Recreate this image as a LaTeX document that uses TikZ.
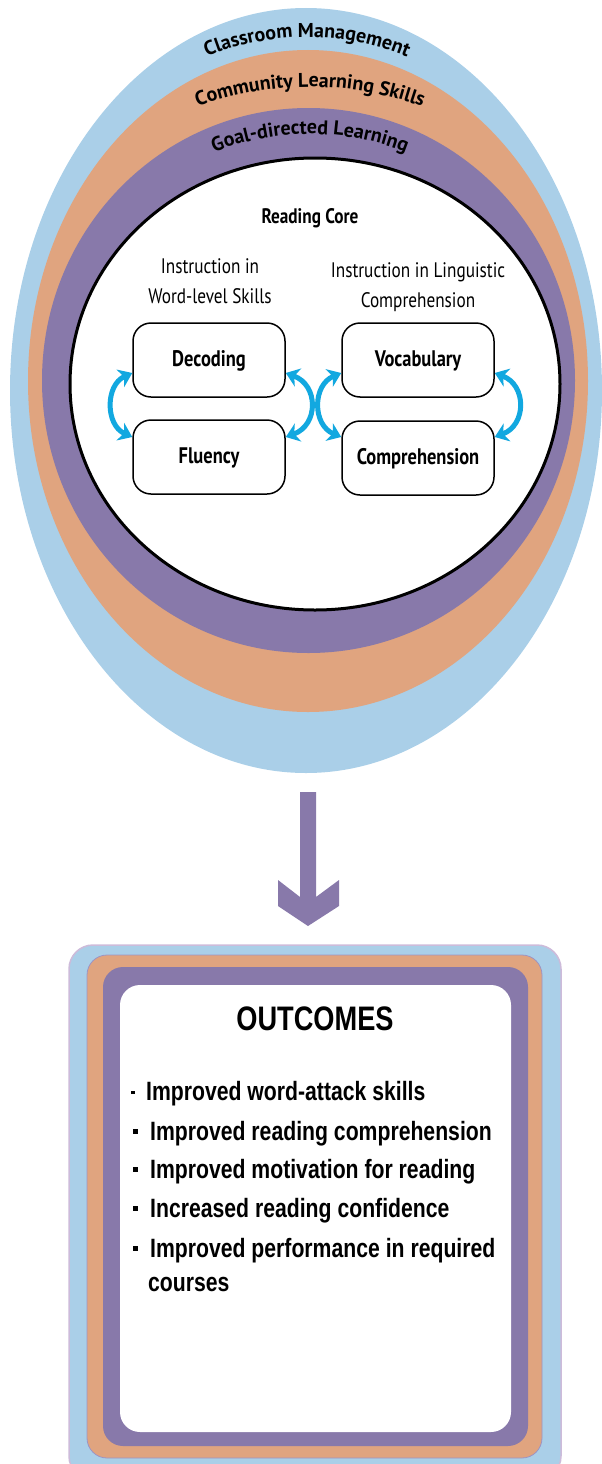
\documentclass[tikz,border=0pt]{standalone}
\usepackage{fontspec}
\usetikzlibrary{arrows.meta,decorations.text}
\newfontfamily\myr[FakeStretch=0.82]{PT Sans}
\newfontfamily\myrw{PT Sans}
\newfontfamily\arl[FakeStretch=0.8]{Liberation Sans}
\definecolor{ringblue}{HTML}{AACFE8}
\definecolor{ringorange}{HTML}{E0A47F}
\definecolor{ringpurple}{HTML}{8879AA}
\definecolor{arrowcyan}{HTML}{12A8E0}
\definecolor{lavender}{HTML}{CDBBDA}
\definecolor{edgepurple}{HTML}{9C94C4}
\newcommand\arcfont{\myrw\bfseries\fontsize{20}{20}\selectfont}
\tikzset{
  skillbox/.style={draw, line width=1.5pt, rounded corners=18pt, minimum width=152pt, minimum height=74pt, inner sep=0pt,
    font=\myr\bfseries\fontsize{22.5}{22.5}\selectfont, text height=14pt, text depth=2pt},
  cyanarr/.style={draw=arrowcyan, line width=5pt, arrows={Stealth[length=13pt,width=19pt,inset=4pt]-Stealth[length=13pt,width=19pt,inset=4pt]}},
  headtxt/.style={font=\myr\fontsize{21}{30}\selectfont, align=center, inner sep=0pt},
  bullettxt/.style={anchor=base west, inner sep=0pt, font=\arl\bfseries\fontsize{26.5}{26.5}\selectfont},
  arclabel/.style={decorate, decoration={text along path, text align=center, text={|\arcfont|#1}}}
}
\begin{document}
\begin{tikzpicture}[x=1pt,y=1pt]
\useasboundingbox (0,0) rectangle (602,-1464);
\clip (0,0) rectangle (602,-1464);
% rings
\fill[ringblue] (306,-390.5) ellipse[x radius=296,y radius=382.5];
\fill[ringorange] (308,-381) ellipse[x radius=280,y radius=331];
\fill[ringpurple] (308.5,-380.5) ellipse[x radius=266.5,y radius=272.5];
\draw[fill=white, line width=3pt] (315,-384) ellipse[x radius=245,y radius=226];
% ring labels
\path[arclabel=Classroom Management] (177,-71.8) arc[start angle=120, end angle=60, radius=260];
\path[arclabel=Community Learning Skills] (170.5,-117.9) arc[start angle=115, end angle=65, radius=330];
\path[arclabel=Goal-directed Learning] (180,-168.8) arc[start angle=120, end angle=60, radius=260];
% core
\node[anchor=base, inner sep=0pt, font=\myr\bfseries\fontsize{21}{21}\selectfont] (core) at (310,-223) {Reading Core};
\node[headtxt] (wl) at (210,-281) {Instruction in\\Word-level Skills};
\node[headtxt] (lc) at (418,-287) {Instruction in Linguistic\\Comprehension};
\node[skillbox] (dec) at (209,-360) {Decoding};
\node[skillbox] (flu) at (209,-457) {Fluency};
\node[skillbox] (voc) at (418,-360) {Vocabulary};
\node[skillbox] (comp) at (418,-458) {Comprehension};
\draw[cyanarr] ([yshift=-13pt]dec.west) .. controls +(-27,-12) and +(-27,12) .. ([yshift=20pt]flu.west);
\draw[cyanarr] ([yshift=-13pt]dec.east) .. controls +(33,-12) and +(33,12) .. ([yshift=20pt]flu.east);
\draw[cyanarr] ([yshift=-13pt]voc.west) .. controls +(-29,-12) and +(-29,12) .. ([yshift=21pt]comp.west);
\draw[cyanarr] ([yshift=-13pt]voc.east) .. controls +(32,-12) and +(32,12) .. ([yshift=21pt]comp.east);
% down arrow
\fill[ringpurple] (300,-792) -- (316,-792) -- (316,-897) -- (339,-880) -- (339,-906) -- (308,-926) -- (278,-906) -- (278,-880) -- (300,-897) -- cycle;
% outcomes frame
\draw[fill=ringblue, draw=lavender, line width=1.5pt, rounded corners=24pt] (69,-945) rectangle (561,-1480);
\draw[fill=ringorange, draw=edgepurple, line width=0.8pt, rounded corners=20pt] (87,-955) rectangle (542,-1458);
\fill[ringpurple, rounded corners=20pt] (103,-967) rectangle (528,-1446);
\fill[white, rounded corners=20pt] (120,-985) rectangle (511,-1432);
\node[anchor=base, inner sep=0pt, font=\arl\bfseries\fontsize{34}{34}\selectfont] (title) at (315,-1030) {OUTCOMES};
\node[bullettxt] (o1) at (131,-1100) {\rule[6pt]{3.5pt}{3.5pt}\hspace{11.5pt}Improved word-attack skills};
\node[bullettxt] (o2) at (133,-1140) {\rule[6.5pt]{4.5pt}{4.5pt}\hspace{12.5pt}Improved reading comprehension};
\node[bullettxt] (o3) at (133,-1178) {\rule[6.5pt]{4.5pt}{4.5pt}\hspace{12.5pt}Improved motivation for reading};
\node[bullettxt] (o4) at (133,-1217) {\rule[6.5pt]{4.5pt}{4.5pt}\hspace{12.5pt}Increased reading confidence};
\node[bullettxt] (o5) at (133,-1257) {\rule[6.5pt]{4.5pt}{4.5pt}\hspace{12.5pt}Improved performance in required};
\node[bullettxt] (o6) at (148,-1291) {courses};
\end{tikzpicture}
\end{document}
